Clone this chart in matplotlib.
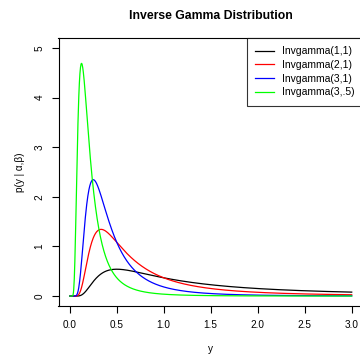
import numpy as np
import matplotlib.pyplot as plt
from math import gamma

plt.rcParams['font.family'] = ['Liberation Sans', 'DejaVu Sans']

# shape / scale parameters of each inverse gamma curve
alphas = [1, 2, 3, 3]
betas = [1, 1, 1, 0.5]
labels = ["Invgamma(1,1)", "Invgamma(2,1)", "Invgamma(3,1)", "Invgamma(3,.5)"]
colors = ["black", "#FF0000", "#0000FF", "#00FF00"]

x_ticks = [0.0, 0.5, 1.0, 1.5, 2.0, 2.5, 3.0]
y_ticks = [0, 1, 2, 3, 4, 5]


def dinvgamma(y, a, b):
    out = np.zeros_like(y)
    pos = y > 0
    out[pos] = b**a / gamma(a) * y[pos]**(-a - 1) * np.exp(-b / y[pos])
    return out


y = np.linspace(0, 3, 1001)

fig = plt.figure(figsize=(3.6, 3.55), dpi=100)
ax = fig.add_axes([58.5 / 360, 49 / 355, (363 - 58.5) / 360, (317 - 49) / 355])

for a, b, lab, col in zip(alphas, betas, labels, colors):
    ax.plot(y, dinvgamma(y, a, b), color=col, lw=0.9, label=lab)

# R-style extents: 4% padding around the data range
ax.set_xlim(-0.12, 3.12)
ax.set_ylim(-0.2, 5.2)
ax.set_xticks(x_ticks)
ax.set_xticklabels([f"{t:.1f}" for t in x_ticks])
ax.set_yticks(y_ticks)
ax.set_yticklabels([str(t) for t in y_ticks], rotation=90, va='center')
ax.tick_params(direction='out', length=5, width=0.8, labelsize=7.2, pad=5, colors='black')
for s in ax.spines.values():
    s.set_linewidth(0.8)

ax.set_xlabel("y", fontsize=7.2, labelpad=10)
ax.set_ylabel("p(y | α,β)", fontsize=7.2, labelpad=7)
ax.set_title("Inverse Gamma Distribution", fontsize=8.8, fontweight='bold', pad=14)

leg = ax.legend(loc='upper right', fontsize=7.5, frameon=True, fancybox=False,
                edgecolor='black', borderaxespad=0, handlelength=1.8,
                handletextpad=0.8, labelspacing=0.35, borderpad=0.8)
leg.get_frame().set_linewidth(0.8)

plt.savefig("out.png", dpi=100)
